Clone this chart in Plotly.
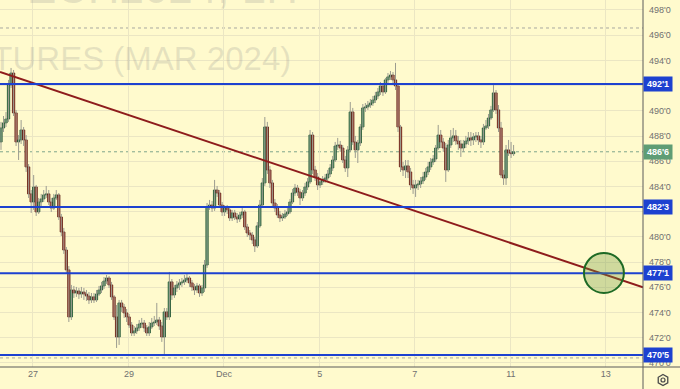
import plotly.graph_objects as go

# ---------------- data (hourly candles, CORN FUTURES MAR 2024) ----------------
open_ = [
    487.53, 488.64, 489.04, 489.35, 492.05, 493.00, 489.83, 487.53, 487.69, 488.48,
    487.69, 485.55, 483.41, 482.77, 483.96, 481.98, 482.77, 483.01, 483.33, 483.41,
    482.77, 482.29, 483.09, 483.33, 481.58, 480.39, 478.96, 477.38, 473.65, 475.79,
    475.55, 475.71, 475.47, 475.63, 475.47, 475.31, 475.00, 475.24, 475.00, 475.47,
    475.79, 476.11, 476.50, 476.74, 476.19, 475.24, 473.65, 472.06, 474.76, 474.44,
    473.97, 473.65, 473.01, 472.38, 472.54, 472.78, 473.09, 473.17, 472.78, 472.38,
    472.86, 473.17, 473.25, 473.41, 472.93, 472.06, 474.05, 473.65, 476.43, 475.39,
    475.95, 476.19, 476.35, 476.43, 476.58, 476.74, 476.35, 476.03, 475.79, 476.11,
    475.55, 475.95, 477.77, 482.37, 482.53, 482.29, 483.72, 483.48, 482.53, 481.98,
    482.29, 482.14, 481.50, 481.90, 481.58, 481.42, 481.74, 481.98, 480.79, 480.31,
    480.15, 479.76, 479.28, 480.87, 482.53, 484.28, 488.72, 485.31, 484.28, 482.69,
    482.29, 481.74, 481.50, 481.58, 481.82, 481.98, 482.77, 483.48, 483.88, 483.56,
    483.09, 483.48, 483.96, 484.36, 488.08, 485.31, 484.75, 484.12, 484.36, 484.52,
    484.67, 484.99, 485.47, 486.10, 487.21, 487.29, 487.05, 486.10, 485.47, 486.90,
    489.91, 487.53, 486.90, 487.45, 488.72, 490.23, 490.31, 490.46, 490.62, 490.86,
    491.18, 491.50, 491.97, 491.50, 492.45, 492.69, 492.84, 492.45, 491.97, 488.72,
    485.55, 485.31, 485.63, 485.15, 484.12, 483.88, 484.12, 484.20, 484.44, 484.75,
    485.15, 485.55, 485.94, 486.18, 487.05, 488.08, 487.53, 487.05, 485.31, 487.29,
    487.85, 488.01, 487.61, 487.37, 487.05, 487.37, 487.61, 487.85, 487.69, 487.93,
    488.01, 487.69, 487.53, 488.64, 488.80, 489.43, 490.07, 491.42, 490.07, 488.64,
    484.91, 484.67, 486.90, 486.66, 486.60,
]
high = [
    489.12, 489.59, 489.91, 492.45, 493.40, 493.24, 490.07, 488.08, 489.27, 488.72,
    488.08, 485.78, 483.72, 484.91, 484.12, 483.09, 483.41, 483.72, 484.04, 483.72,
    483.09, 483.41, 483.72, 483.48, 481.82, 480.71, 479.20, 477.69, 476.19, 476.11,
    476.03, 475.95, 476.03, 475.95, 475.79, 475.63, 475.55, 475.55, 475.79, 476.11,
    476.43, 476.82, 476.98, 476.90, 476.43, 475.39, 474.60, 475.00, 475.00, 474.68,
    474.28, 473.89, 473.25, 472.93, 473.09, 473.41, 473.57, 473.41, 473.01, 473.25,
    473.57, 473.73, 474.76, 473.65, 473.25, 474.36, 474.36, 477.22, 476.66, 476.19,
    476.50, 476.66, 476.74, 476.98, 477.06, 476.90, 476.58, 476.27, 476.35, 476.27,
    476.19, 478.17, 482.69, 482.93, 482.85, 484.52, 484.04, 483.72, 482.77, 482.53,
    482.53, 482.37, 482.14, 482.14, 481.90, 481.98, 482.29, 482.14, 481.03, 480.55,
    480.39, 479.99, 481.18, 482.93, 484.67, 489.51, 489.12, 485.63, 484.52, 483.01,
    482.61, 482.06, 481.90, 482.14, 482.29, 483.01, 483.80, 484.20, 484.12, 483.80,
    483.72, 484.28, 484.67, 488.48, 488.32, 485.63, 485.07, 484.67, 484.83, 484.99,
    485.31, 485.78, 486.42, 487.53, 487.85, 487.61, 487.29, 486.42, 487.21, 490.70,
    490.23, 488.01, 487.69, 488.96, 490.54, 490.62, 490.78, 490.94, 491.18, 491.50,
    491.81, 492.29, 492.13, 492.61, 493.00, 493.16, 493.08, 493.80, 492.13, 488.88,
    485.94, 486.10, 486.10, 485.47, 484.52, 484.52, 484.52, 484.75, 485.15, 485.47,
    485.94, 486.26, 486.50, 487.29, 488.88, 488.48, 487.85, 487.45, 487.69, 488.48,
    488.64, 488.48, 488.01, 487.69, 487.69, 488.01, 488.32, 488.32, 488.24, 488.32,
    488.32, 488.01, 488.96, 489.27, 489.75, 490.39, 492.21, 491.65, 490.46, 489.12,
    485.31, 487.29, 487.69, 487.53, 487.29,
]
low = [
    486.90, 488.32, 488.72, 489.12, 491.81, 489.59, 487.21, 486.10, 487.37, 487.21,
    485.15, 483.09, 481.90, 482.14, 481.66, 481.82, 482.45, 482.77, 483.09, 482.53,
    481.98, 482.14, 482.93, 481.34, 480.07, 478.65, 477.06, 473.25, 473.41, 475.16,
    475.24, 475.08, 475.16, 475.00, 474.92, 474.68, 474.76, 474.76, 474.84, 475.31,
    475.55, 475.87, 476.27, 475.95, 475.00, 473.41, 471.19, 471.43, 474.05, 473.57,
    473.25, 472.78, 472.14, 472.14, 472.30, 472.54, 472.78, 472.46, 472.14, 472.14,
    472.70, 472.93, 473.01, 472.62, 471.67, 470.63, 473.41, 473.41, 475.00, 475.16,
    475.63, 475.79, 476.03, 476.19, 476.35, 476.03, 475.71, 475.39, 475.55, 475.24,
    475.31, 475.63, 477.54, 482.14, 481.98, 482.06, 483.17, 482.29, 481.66, 481.66,
    481.82, 481.26, 481.26, 481.34, 481.10, 481.18, 481.50, 480.55, 479.99, 479.76,
    479.44, 478.80, 479.12, 480.71, 482.29, 484.04, 484.99, 483.88, 482.45, 481.98,
    481.50, 481.18, 481.26, 481.42, 481.66, 481.82, 482.61, 483.25, 483.25, 482.53,
    482.85, 483.25, 483.72, 484.20, 484.99, 484.44, 483.72, 483.88, 484.12, 484.28,
    484.44, 484.75, 485.23, 485.94, 486.90, 486.74, 485.86, 485.15, 484.75, 486.74,
    487.29, 486.26, 485.86, 487.21, 488.48, 489.91, 490.07, 490.23, 490.39, 490.62,
    490.94, 491.26, 491.18, 491.34, 492.13, 492.45, 492.13, 491.65, 488.32, 485.15,
    484.83, 484.67, 484.67, 483.72, 483.41, 483.17, 483.72, 483.88, 484.20, 484.52,
    484.91, 485.31, 485.71, 485.94, 486.90, 487.05, 486.74, 484.36, 485.15, 487.05,
    487.53, 487.29, 486.90, 486.34, 486.74, 487.05, 487.29, 487.21, 487.29, 487.53,
    487.29, 487.05, 487.29, 488.48, 488.56, 489.27, 489.91, 489.75, 488.32, 484.67,
    484.12, 484.12, 486.42, 486.26, 486.42,
]
close = [
    488.64, 489.04, 489.35, 492.05, 493.00, 489.83, 487.53, 487.69, 488.48, 487.69,
    485.55, 483.41, 482.77, 483.96, 481.98, 482.77, 483.01, 483.33, 483.41, 482.77,
    482.29, 483.09, 483.33, 481.58, 480.39, 478.96, 477.38, 473.65, 475.79, 475.55,
    475.71, 475.47, 475.63, 475.47, 475.31, 475.00, 475.24, 475.00, 475.47, 475.79,
    476.11, 476.50, 476.74, 476.19, 475.24, 473.65, 472.06, 474.76, 474.44, 473.97,
    473.65, 473.01, 472.38, 472.54, 472.78, 473.09, 473.17, 472.78, 472.38, 472.86,
    473.17, 473.25, 473.41, 472.93, 472.06, 474.05, 473.65, 476.43, 475.39, 475.95,
    476.19, 476.35, 476.43, 476.58, 476.74, 476.35, 476.03, 475.79, 476.11, 475.55,
    475.95, 477.77, 482.37, 482.53, 482.29, 483.72, 483.48, 482.53, 481.98, 482.29,
    482.14, 481.50, 481.90, 481.58, 481.42, 481.74, 481.98, 480.79, 480.31, 480.15,
    479.76, 479.28, 480.87, 482.53, 484.28, 488.72, 485.31, 484.28, 482.69, 482.29,
    481.74, 481.50, 481.58, 481.82, 481.98, 482.77, 483.48, 483.88, 483.56, 483.09,
    483.48, 483.96, 484.36, 488.08, 485.31, 484.75, 484.12, 484.36, 484.52, 484.67,
    484.99, 485.47, 486.10, 487.21, 487.29, 487.05, 486.10, 485.47, 486.90, 489.91,
    487.53, 486.90, 487.45, 488.72, 490.23, 490.31, 490.46, 490.62, 490.86, 491.18,
    491.50, 491.97, 491.50, 492.45, 492.69, 492.84, 492.45, 491.97, 488.72, 485.55,
    485.31, 485.63, 485.15, 484.12, 483.88, 484.12, 484.20, 484.44, 484.75, 485.15,
    485.55, 485.94, 486.18, 487.05, 488.08, 487.53, 487.05, 485.31, 487.29, 487.85,
    488.01, 487.61, 487.37, 487.05, 487.37, 487.61, 487.85, 487.69, 487.93, 488.01,
    487.69, 487.53, 488.64, 488.80, 489.43, 490.07, 491.42, 490.07, 488.64, 484.91,
    484.67, 486.90, 486.66, 486.60, 486.75,
]

day_ticks = [12.7, 50.9, 88.7, 126.9, 164.7, 202.9, 240.7]
day_labels = ["27", "29", "Dec", "5", "7", "11", "13"]

# 492'0 and 482'0 sit under the level boxes in the reference, so they are not listed
price_ticks = [470, 472, 474, 476, 478, 480, 484, 486, 488, 490, 494, 496, 498]
price_labels = ["470'0", "472'0", "474'0", "476'0", "478'0", "480'0", "484'0",
                "486'0", "488'0", "490'0", "494'0", "496'0", "498'0"]
grid_prices = [470, 472, 474, 476, 478, 480, 482, 484, 486, 488, 490, 492, 494, 496, 498]

levels = [492.125, 482.375, 477.125, 470.625]
level_labels = ["492'1", "482'3", "477'1", "470'5"]
last_price = 486.75
last_label = "486'6"
dotted_levels = [496.57, 470.40]

trend_x = [-0.4, 255.5]
trend_y = [493.08, 476.0]

target_x = [232.0, 247.9]
target_y = [475.55, 478.73]

# ---------------- styling ----------------
BG = "#fffacd"
GRID = "#ebe6c3"
AX = "#5a5a5a"
TXT = "#707070"
BLUE = "#1d41d0"
GREEN_BODY = "#3f8d5c"
GREEN_EDGE = "#1f4f30"
RED_BODY = "#b23a2c"
RED_EDGE = "#5a1a12"
WICK = "#9c9c90"
FONT = "Liberation Sans, Arial, sans-serif"

W, H = 680, 389
ML, MR, MT, MB = 0, 37, 0, 22
PW, PH = W - ML - MR, H - MT - MB


def pxx(px):
    return (px - ML) / PW


def pxy(py):
    return (MT + PH - py) / PH


n = len(close)
xs = list(range(n))

wx, wy = [], []
for i in range(n):
    wx += [xs[i], xs[i], None]
    wy += [low[i], high[i], None]

base = [min(o, c) for o, c in zip(open_, close)]
height = [max(abs(c - o), 0.06) for o, c in zip(open_, close)]
up = [c >= o for o, c in zip(open_, close)]
fill = [GREEN_BODY if u else RED_BODY for u in up]
edge = [GREEN_EDGE if u else RED_EDGE for u in up]

fig = go.Figure()
fig.add_trace(go.Scatter(x=wx, y=wy, mode="lines", line=dict(color=WICK, width=1),
                         hoverinfo="skip"))
fig.add_trace(go.Bar(x=xs, y=height, base=base, width=0.92,
                     marker=dict(color=fill, line=dict(color=edge, width=0.8)),
                     hoverinfo="skip"))
fig.add_trace(go.Scatter(x=trend_x, y=trend_y, mode="lines",
                         line=dict(color="#8e1c1c", width=2), hoverinfo="skip"))

shapes = []
for gp in grid_prices:
    pass
for lv in dotted_levels:
    shapes.append(dict(type="line", xref="paper", yref="y", x0=0, x1=1, y0=lv, y1=lv,
                       line=dict(color="#a8a8a0", width=1, dash="dot"), layer="below"))
shapes.append(dict(type="line", xref="paper", yref="y", x0=0, x1=1, y0=last_price, y1=last_price,
                   line=dict(color="#7fa58a", width=1, dash="dot"), layer="below"))
for lv in levels:
    shapes.append(dict(type="line", xref="paper", yref="y", x0=0, x1=1, y0=lv, y1=lv,
                       line=dict(color=BLUE, width=2)))
shapes.append(dict(type="circle", xref="x", yref="y", x0=target_x[0], x1=target_x[1],
                   y0=target_y[0], y1=target_y[1],
                   fillcolor="rgba(105,150,55,0.32)", line=dict(color="#1e6a25", width=2)))
# axis frame lines
shapes.append(dict(type="line", xref="paper", yref="paper", x0=0, x1=pxx(W), y0=0, y1=0,
                   line=dict(color=AX, width=1)))
shapes.append(dict(type="line", xref="paper", yref="paper", x0=1, x1=1, y0=pxy(0), y1=pxy(H),
                   line=dict(color=AX, width=1)))
# settings icon (hexagon + dot)
cx, cy, r = 663, 380, 5.5
hexpts = [(cx, cy - r), (cx + 0.866 * r, cy - r / 2), (cx + 0.866 * r, cy + r / 2),
          (cx, cy + r), (cx - 0.866 * r, cy + r / 2), (cx - 0.866 * r, cy - r / 2)]
path = "M " + " L ".join(f"{pxx(a):.5f},{pxy(b):.5f}" for a, b in hexpts) + " Z"
shapes.append(dict(type="path", xref="paper", yref="paper", path=path,
                   line=dict(color="#4a4a4a", width=1.3)))
shapes.append(dict(type="circle", xref="paper", yref="paper",
                   x0=pxx(cx - 2), x1=pxx(cx + 2), y0=pxy(cy + 2), y1=pxy(cy - 2),
                   line=dict(color="#4a4a4a", width=1.2)))

annotations = []
# watermark
annotations.append(dict(text="ZCH2024, 1H", xref="paper", yref="paper",
                        x=pxx(300), y=pxy(-12), xanchor="right", yanchor="middle",
                        showarrow=False, font=dict(family=FONT, size=44,
                                                   color="rgba(140,140,140,0.22)")))
annotations.append(dict(text="CORN FUTURES (MAR 2024)", xref="paper", yref="paper",
                        x=pxx(293), y=pxy(58.5), xanchor="right", yanchor="middle",
                        showarrow=False, font=dict(family=FONT, size=33,
                                                   color="rgba(140,140,140,0.22)")))
for lv, lab in zip(levels, level_labels):
    annotations.append(dict(text=f"<b>{lab}</b>", xref="paper", yref="y", x=1, y=lv,
                            xanchor="left", yanchor="middle", showarrow=False,
                            bgcolor=BLUE, borderpad=1.5, width=25, height=11,
                            font=dict(family=FONT, size=9, color="white")))
annotations.append(dict(text=f"<b>{last_label}</b>", xref="paper", yref="y", x=1, y=last_price,
                        xanchor="left", yanchor="middle", showarrow=False,
                        bgcolor="#5f9d75", borderpad=1.5, width=25, height=11,
                        font=dict(family=FONT, size=9, color="white")))

fig.update_layout(
    template="none",
    width=W, height=H,
    margin=dict(l=ML, r=MR, t=MT, b=MB, pad=0),
    paper_bgcolor=BG, plot_bgcolor=BG,
    showlegend=False, barmode="overlay",
    shapes=shapes, annotations=annotations,
    xaxis=dict(range=[-0.4, 255.5], tickmode="array", tickvals=day_ticks, ticktext=day_labels,
               showgrid=True, gridcolor=GRID, gridwidth=1, zeroline=False, showline=False,
               ticks="", automargin=False, fixedrange=True,
               tickfont=dict(family=FONT, size=9, color=TXT)),
    yaxis=dict(range=[469.68, 498.79], side="right", tickmode="array", tickvals=price_ticks,
               ticktext=price_labels, showgrid=False, zeroline=False, showline=False,
               ticks="", automargin=False, ticklabelstandoff=5,
               tickfont=dict(family=FONT, size=9, color=TXT)),
    yaxis2=dict(range=[469.68, 498.79], overlaying="y", side="left", tickmode="array",
                tickvals=grid_prices, showticklabels=False, showgrid=True, gridcolor=GRID,
                gridwidth=1, zeroline=False, showline=False, ticks="", automargin=False),
)
# invisible trace so the grid-only axis is drawn
fig.add_trace(go.Scatter(x=[None], y=[None], yaxis="y2", hoverinfo="skip"))

fig.write_html("out.html")
